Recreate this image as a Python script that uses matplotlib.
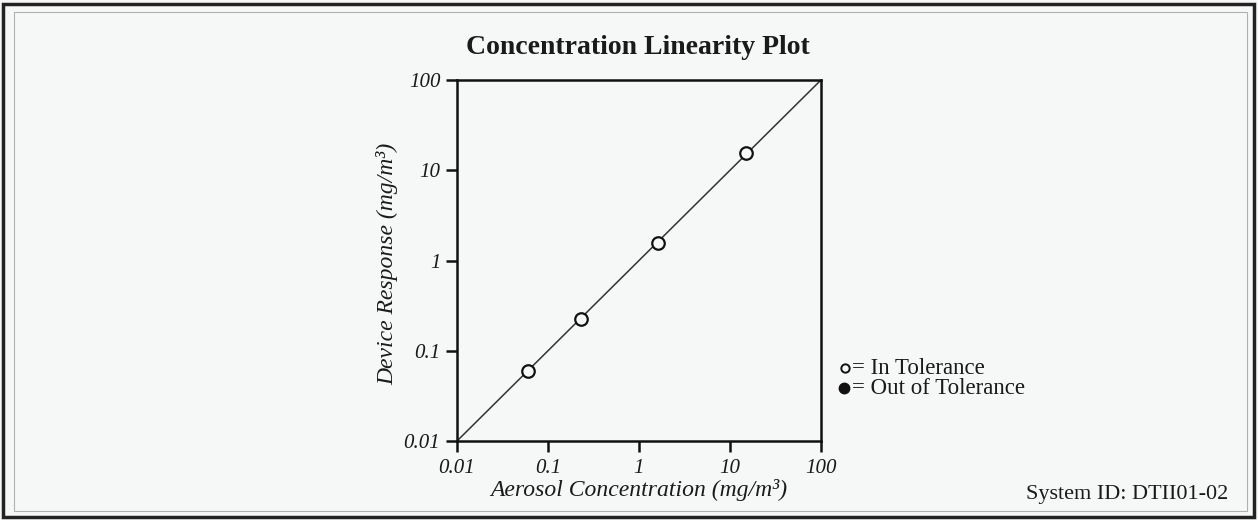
# Concentration linearity plot (log-log)

import matplotlib.pyplot as plt
from matplotlib.patches import Rectangle

plt.rcParams['font.family'] = ['Liberation Serif', 'DejaVu Serif']

# data
aerosol_conc = [0.060, 0.229, 1.62, 15.1]
device_resp = [0.060, 0.226, 1.58, 15.4]
ideal_line = [0.01, 100]
tick_values = [0.01, 0.1, 1, 10, 100]
tick_labels = ['0.01', '0.1', '1', '10', '100']

bg = '#f6f8f7'
ink = '#1a1a1a'

fig = plt.figure(figsize=(12.58, 5.2), dpi=100)
fig.patch.set_facecolor(bg)

# frame round the page
fig.add_artist(Rectangle((3 / 1258, 3 / 520), 1251 / 1258, 513 / 520, transform=fig.transFigure,
                         fill=False, edgecolor='#222222', linewidth=2.5))
fig.add_artist(Rectangle((14 / 1258, 9 / 520), 1233 / 1258, 499 / 520, transform=fig.transFigure,
                         fill=False, edgecolor='#b0b0b0', linewidth=0.8))

ax = fig.add_axes([457 / 1258, 1 - 441 / 520, 364 / 1258, 361 / 520])
ax.set_facecolor(bg)
ax.set_xscale('log')
ax.set_yscale('log')
ax.set_xlim(0.01, 100)
ax.set_ylim(0.01, 100)

ax.plot(ideal_line, ideal_line, color='#333333', linewidth=1.1, zorder=2)
ax.plot(aerosol_conc, device_resp, linestyle='none', marker='o', markersize=9,
        markerfacecolor=bg, markeredgecolor='#111111', markeredgewidth=1.6, zorder=3)

ax.set_xticks(tick_values)
ax.set_xticklabels(tick_labels, fontstyle='italic', fontsize=15, color=ink)
ax.set_yticks(tick_values)
ax.set_yticklabels(tick_labels, fontstyle='italic', fontsize=15, color=ink)
ax.minorticks_off()
ax.tick_params(axis='both', direction='out', length=8, width=1.8, color='#111111')
ax.tick_params(axis='x', pad=5)
ax.tick_params(axis='y', pad=4)
for s in ax.spines.values():
    s.set_linewidth(1.8)
    s.set_color('#111111')

ax.set_xlabel('Aerosol Concentration (mg/m³)', fontstyle='italic', fontsize=17, color=ink)
ax.xaxis.set_label_coords(0.5, -0.106)
ax.set_ylabel('Device Response (mg/m³)', fontstyle='italic', fontsize=17, color=ink)
ax.yaxis.set_label_coords(-0.162, 0.49)

fig.text(638 / 1258, 1 - 48 / 520, 'Concentration Linearity Plot', ha='center', va='center',
         fontsize=20, fontweight='bold', color=ink)

# legend drawn by hand
ax.plot([845 / 1258], [1 - 368 / 520], transform=fig.transFigure, clip_on=False, marker='o',
        markersize=6, markerfacecolor=bg, markeredgecolor='#111111', markeredgewidth=1.4)
ax.plot([844 / 1258], [1 - 388 / 520], transform=fig.transFigure, clip_on=False, marker='o',
        markersize=7.5, markerfacecolor='#111111', markeredgecolor='#111111')
fig.text(852 / 1258, 1 - 368 / 520, '= In Tolerance', ha='left', va='center', fontsize=16.5,
         color=ink)
fig.text(852 / 1258, 1 - 388 / 520, '= Out of Tolerance', ha='left', va='center', fontsize=16.5,
         color=ink)

fig.text(1228 / 1258, 1 - 494 / 520, 'System ID: DTII01-02', ha='right', va='center', fontsize=16,
         color=ink)

fig.savefig('out.png', dpi=100, facecolor=fig.get_facecolor())
